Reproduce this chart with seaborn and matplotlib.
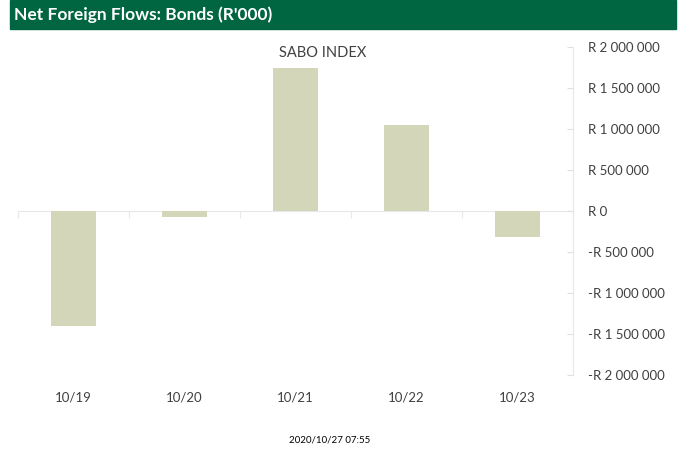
import matplotlib
matplotlib.use("Agg")
import matplotlib.pyplot as plt
import matplotlib.patches as mpatches
from matplotlib.ticker import FuncFormatter, FixedLocator, NullFormatter
import seaborn as sns
import pandas as pd

categories = ["10/19", "10/20", "10/21", "10/22", "10/23"]
values = [-1400000, -75000, 1745000, 1050000, -315000]
yticks = [-2000000, -1500000, -1000000, -500000, 0, 500000, 1000000, 1500000, 2000000]
title = "Net Foreign Flows: Bonds (R'000)"
subtitle = "SABO INDEX"
stamp = "2020/10/27 07:55"

sns.set_theme(style="white")
plt.rcParams['font.family'] = ['Lato', 'DejaVu Sans']

df = pd.DataFrame({"date": categories, "value": values})

fig = plt.figure(figsize=(6.86, 4.53), dpi=100)
ax = fig.add_axes([18/686, 1-375/453, (573-18)/686, (375-47)/453])

sns.barplot(data=df, x="date", y="value", color="#D4D6B9", saturation=1,
            width=0.4, ax=ax, edgecolor="none")
ax.set_xlim(-0.5, 4.5)
ax.set_ylim(-2000000, 2000000)

def rfmt(v, pos):
    s = f"{abs(int(v)):,}".replace(",", " ")
    return ("-R " if v < 0 else "R ") + s

ax.yaxis.tick_right()
ax.set_yticks(yticks)
ax.yaxis.set_major_formatter(FuncFormatter(rfmt))
ax.tick_params(axis="y", direction="in", length=4, color="#E0E0E0", width=0.8,
               labelsize=9.5, labelcolor="#404040", pad=11, right=True, left=False)
ax.tick_params(axis="x", length=0, labelsize=9.5, labelcolor="#404040", pad=12)
ax.set_xlabel("")
ax.set_ylabel("")
for s in ["top", "left", "bottom"]:
    ax.spines[s].set_visible(False)
ax.spines["right"].set_color("#E8E8E8")
ax.spines["right"].set_linewidth(0.8)

# zero axis with category boundary ticks
sec = ax.secondary_xaxis(0.5)
sec.xaxis.set_major_locator(FixedLocator([-0.5, 0.5, 1.5, 2.5, 3.5, 4.5]))
sec.xaxis.set_major_formatter(NullFormatter())
sec.xaxis.set_ticks_position("bottom")
sec.tick_params(axis="x", direction="out", length=5, color="#E8E8E8", width=0.8,
                labelbottom=False, labeltop=False)
for sp in sec.spines.values():
    sp.set_color("#E8E8E8")
    sp.set_linewidth(0.8)

# banner
fig.patches.append(mpatches.Rectangle((10/686, 1-29/453), 666/686, 29/453,
                                      transform=fig.transFigure, color="#006642",
                                      zorder=0))
fig.text(14/686, 1-15/453, title, color="white", fontsize=12.5, fontweight="bold",
         va="center", ha="left")
fig.text(323/686, 1-53/453, subtitle, color="#404040", fontsize=10.5,
         ha="center", va="center")
fig.text(330/686, 1-440/453, stamp, color="black", fontsize=7,
         ha="center", va="center")

fig.savefig("out.png", dpi=100)
